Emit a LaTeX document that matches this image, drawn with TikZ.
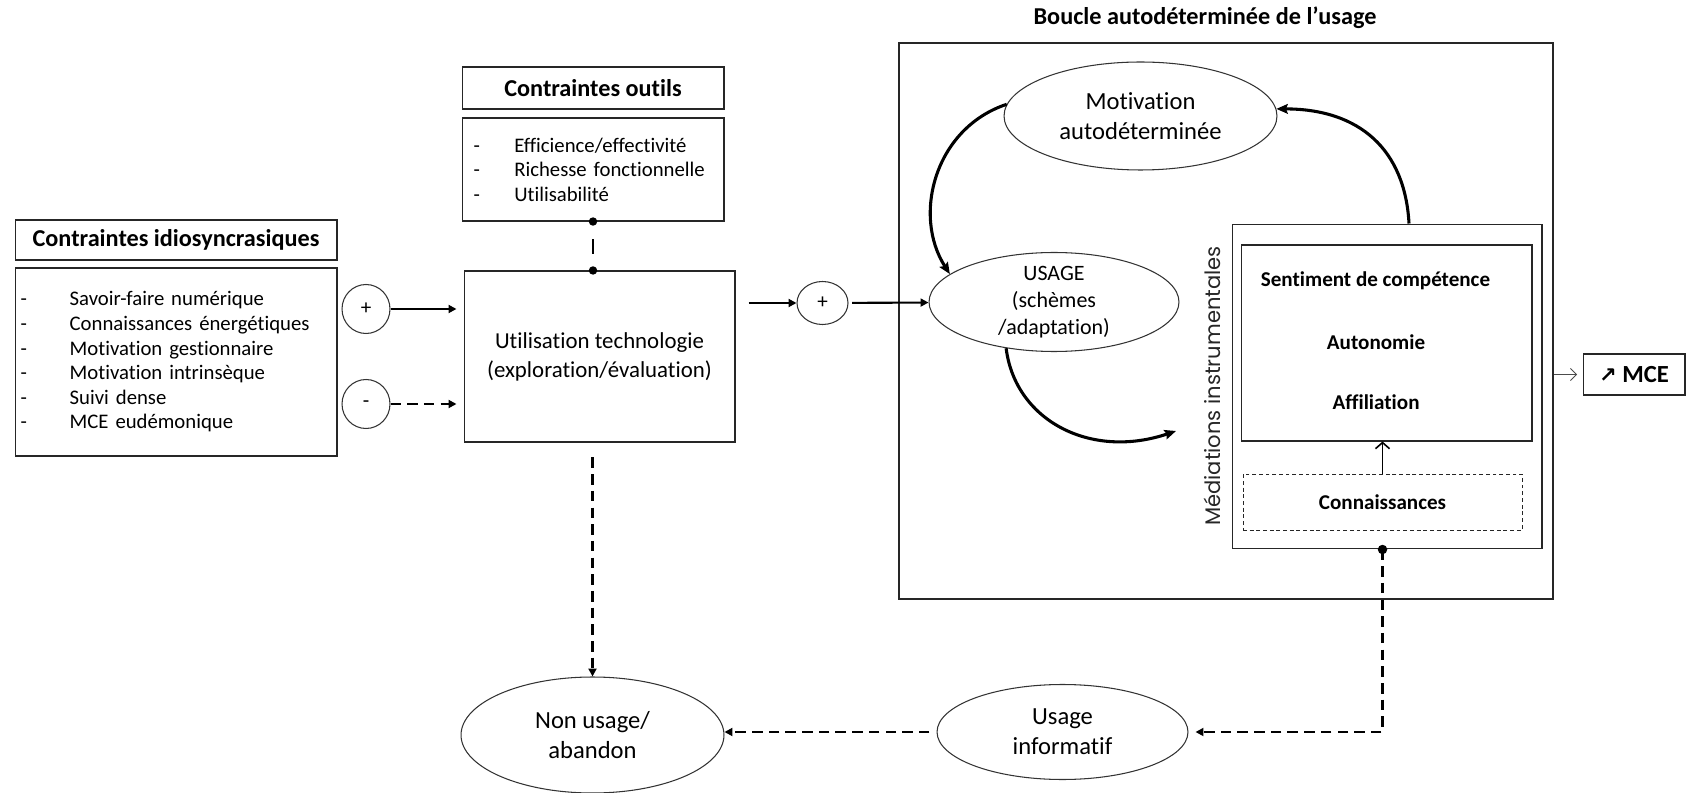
\documentclass[tikz,border=0pt]{standalone}
\usepackage{fontspec}
\setmainfont{Carlito}[Ligatures=NoCommon]
\newfontfamily\medfont{Poppins}[Ligatures=NoCommon]
\newfontfamily\arrowfont{DejaVu Sans}
\usepackage{tikz}
\usetikzlibrary{arrows.meta}
\usetikzlibrary{shapes.geometric}

\begin{document}
\begin{tikzpicture}[x=0.02cm, y=-0.02cm,
        box/.style={draw=black!85, line width=0.6pt, inner sep=0pt},
        head/.style={box, font=\bfseries\fontsize{13.8}{16}\selectfont},
        listbox/.style={box, align=left, font=\fontsize{11.8}{14}\selectfont},
        oval/.style={ellipse, draw=black!80, line width=0.6pt, inner sep=0pt, align=center, font=\fontsize{14}{17}\selectfont},
        sign/.style={ellipse, draw=black!80, line width=0.6pt, inner sep=0pt, font=\fontsize{12}{14}\selectfont},
        feat/.style={font=\bfseries\fontsize{12}{14}\selectfont},
        arr/.style={line width=1.2pt, -{Triangle[length=4.5pt,width=4.5pt]}},
        dasharr/.style={arr, line width=1.35pt, dash pattern=on 6pt off 3.5pt},
        curvarr/.style={line width=1.75pt, -{Stealth[length=6.5pt,width=5.5pt,inset=1pt]}},
        openarr/.style={line width=0.9pt, -{Straight Barb[length=3.5pt,width=8pt]}},
        mcearr/.style={draw=black!70, line width=0.5pt, -{Straight Barb[length=3.5pt,width=7pt]}}
    ]
        \useasboundingbox (0,0) rectangle (1686,793);

        \node[head, minimum width=6.44cm, minimum height=0.8cm] (idiohead) at (176,240) {Contraintes idiosyncrasiques};
        \node[listbox, inner xsep=2.8pt, text width=177pt, minimum width=6.44cm, minimum height=3.76cm] (idiolist) at (176,362) {\makebox[28pt][l]{-}Savoir-faire numérique\\
            \makebox[28pt][l]{-}Connaissances énergétiques\\
            \makebox[28pt][l]{-}Motivation gestionnaire\\
            \makebox[28pt][l]{-}Motivation intrinsèque\\
            \makebox[28pt][l]{-}Suivi dense\\
            \makebox[28pt][l]{-}MCE eudémonique};

        \node[head, minimum width=5.24cm, minimum height=0.84cm] (outilhead) at (593,88) {Contraintes outils};
        \node[listbox, inner xsep=6.2pt, text width=136pt, minimum width=5.24cm, minimum height=2.06cm] (outillist) at (593,169.5) {\makebox[23.2pt][l]{-}Efficience/effectivité\\
            \makebox[23.2pt][l]{-}Richesse fonctionnelle\\
            \makebox[23.2pt][l]{-}Utilisabilité};

        \node[box, align=center, font=\fontsize{13}{16.5}\selectfont, minimum width=5.42cm, minimum height=3.42cm] (util) at (599.5,356.5) {Utilisation technologie\\(exploration/évaluation)};

        \node[sign, minimum width=0.96cm, minimum height=0.98cm] (plus1) at (366,309) {+};
        \node[sign, minimum width=0.96cm, minimum height=0.98cm] (minus1) at (366,404) {-};
        \node[sign, minimum width=1.02cm, minimum height=0.86cm] (plus2) at (822.5,303) {+};

        \node[box, line width=0.8pt, minimum width=13.08cm, minimum height=11.12cm] (loop) at (1226,321) {};
        \node[font=\bfseries\fontsize{13.8}{16}\selectfont] (looptitle) at (1205,18) {Boucle autodéterminée de l’usage};

        \node[oval, minimum width=5.46cm, minimum height=2.16cm] (motiv) at (1140.5,116) {Motivation\\autodéterminée};
        \node[oval, inner ysep=-4pt, font=\fontsize{12.5}{15.3}\selectfont, minimum width=5cm, minimum height=1.98cm] (usage) at (1054,302) {USAGE\\(schèmes\\/adaptation)};

        \node[box, minimum width=6.2cm, minimum height=6.5cm] (medbox) at (1387,386.5) {};
        \node[box, minimum width=5.82cm, minimum height=3.92cm] (feel) at (1386.5,343) {};
        \node[feat] (compet) at (1375.5,281) {Sentiment de compétence};
        \node[feat] (auto) at (1376,342) {Autonomie};
        \node[feat] (affil) at (1376,402) {Affiliation};
        \node[box, feat, line width=0.5pt, dash pattern=on 2.2pt off 1.6pt, minimum width=5.58cm, minimum height=1.12cm] (know) at (1382.5,502) {Connaissances};
        \node[rotate=90, text=black!85, font=\medfont\fontsize{12}{14}\selectfont] (medlabel) at (1212,386) {Médiations instrumentales};

        \node[box, minimum width=2.04cm, minimum height=0.82cm, font=\bfseries\fontsize{14}{16}\selectfont] (mce) at (1634,374.5) {{\arrowfont\fontsize{12}{14}\selectfont ↗} MCE};

        \node[oval, minimum width=5.02cm, minimum height=1.9cm] (info) at (1062.5,732) {Usage\\informatif};
        \node[oval, minimum width=5.26cm, minimum height=2.32cm] (nonuse) at (592.5,735) {Non usage/\\abandon};

        \coordinate (usagetip) at (1176,431);

        \draw[arr, shorten >=4pt] (plus1) -- (plus1 -| util.west);
        \draw[dasharr, shorten >=4pt] (minus1) -- (minus1 -| util.west);
        \draw[line width=1.35pt, dash pattern=on 8.5pt off 10pt, dash phase=8.5pt] (outillist.south) -- (outillist.south |- util.north);
        \fill (outillist.south) circle (2.4pt);
        \fill (outillist.south |- util.north) circle (2.4pt);
        \draw[arr, shorten <=7.4pt] (util.east |- plus2) -- (plus2);
        \draw[arr, shorten <=2pt] (plus2) -- (usage);

        \draw[curvarr] (motiv.175) .. controls (935,128) and (912,215) .. (usage.165);
        \draw[curvarr] ([xshift=0.44cm]medbox.north) .. controls (1405,150) and (1360,109) .. (motiv.3);
        \draw[curvarr] (usage.224) .. controls (1015,420) and (1090,460) .. (usagetip);

        \draw[openarr] (know.north) -- (know.north |- feel.south);
        \draw[mcearr, shorten >=3pt] (loop.east |- mce) -- (mce);

        \draw[dasharr, shorten <=8.5pt] (nonuse.north |- util.south) -- (nonuse.north);
        \draw[dasharr, shorten >=4pt] (know.south |- medbox.south) |- (info.east);
        \fill (know.south |- medbox.south) circle (2.7pt);
        \draw[dasharr, shorten <=4pt] (info.west) -- (nonuse.east |- info.west);
\end{tikzpicture}
\end{document}
